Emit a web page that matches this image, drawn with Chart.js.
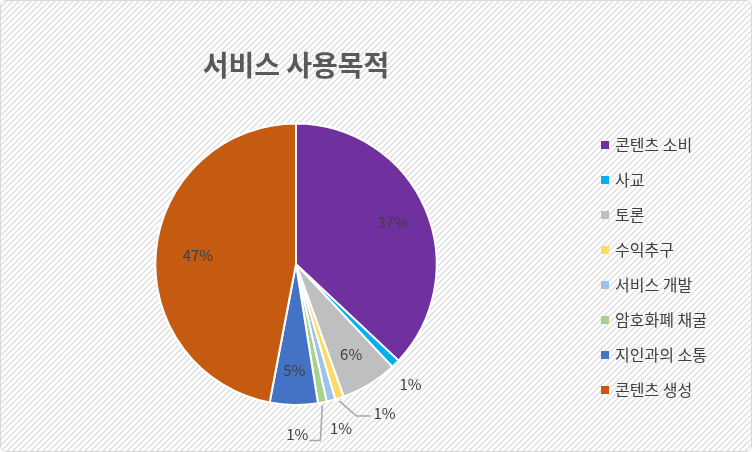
<!DOCTYPE html>
<html><head><meta charset="utf-8">
<script src="https://cdn.jsdelivr.net/npm/chart.js@4"></script>
<style>
body{margin:0;background:#fff}
#wrap{position:absolute;left:0;top:0;width:750px;height:450px;border:1px solid #d9d9d9;border-radius:6px;overflow:hidden}
</style></head><body>
<div id="wrap"><canvas id="c" width="750" height="450"></canvas></div>
<script>
const categories = ['콘텐츠 소비', '사교', '토론', '수익추구', '서비스 개발', '암호화폐 채굴', '지인과의 소통', '콘텐츠 생성'];
const values = [37, 1, 6.5, 1, 1, 1, 5.5, 47];
const labels = ['37%', '1%', '6%', '1%', '1%', '1%', '5%', '47%'];
const colors = ['#7030a0', '#00b0f0', '#bfbfbf', '#ffd966', '#9dc3e6', '#a9d18e', '#4472c4', '#c55a11'];
const font = "'Noto Sans CJK KR', 'Noto Sans', sans-serif";

const hatch = {
  id: 'hatch',
  beforeDraw(chart) {
    const ctx = chart.ctx;
    ctx.save();
    ctx.fillStyle = '#fff';
    ctx.fillRect(0, 0, chart.width, chart.height);
    ctx.strokeStyle = '#d9d9d9';
    ctx.lineWidth = 1.2;
    ctx.beginPath();
    for (let x = -chart.height; x < chart.width; x += 6) {
      ctx.moveTo(x, chart.height);
      ctx.lineTo(x + chart.height, 0);
    }
    ctx.stroke();
    ctx.restore();
  }
};

// legend drawn by hand so it can sit beside the pie
const sideLegend = {
  id: 'sideLegend',
  afterDraw(chart) {
    const ctx = chart.ctx;
    ctx.save();
    ctx.font = '16px ' + font;
    ctx.textBaseline = 'middle';
    categories.forEach((c, i) => {
      const y = 144 + i * 35;
      ctx.fillStyle = colors[i];
      ctx.fillRect(600, y - 4, 8, 8);
      ctx.fillStyle = '#404040';
      ctx.fillText(c, 614, y);
    });
    ctx.restore();
  }
};

// label offsets from the arc edge for the small slices
const outside = {1: [15, 21, null], 3: [45, 15, 'h'], 4: [10, 28, null], 5: [-25, 32, 'v']};
const pctLabels = {
  id: 'pctLabels',
  afterDatasetsDraw(chart) {
    const ctx = chart.ctx;
    const arcs = chart.getDatasetMeta(0).data;
    ctx.save();
    ctx.font = '15px ' + font;
    ctx.textAlign = 'center';
    ctx.textBaseline = 'middle';
    ctx.fillStyle = '#404040';
    arcs.forEach((a, i) => {
      const mid = (a.startAngle + a.endAngle) / 2;
      const r = a.outerRadius;
      const cos = Math.cos(mid), sin = Math.sin(mid);
      if (outside[i]) {
        const [dx, dy, lead] = outside[i];
        const ex = a.x + cos * r, ey = a.y + sin * r;
        const tx = ex + dx, ty = ey + dy;
        if (lead) {
          ctx.strokeStyle = '#a6a6a6';
          ctx.lineWidth = 1.5;
          ctx.beginPath();
          ctx.moveTo(ex, ey + 3);
          if (lead === 'h') { ctx.lineTo(tx - 28, ty + 3); ctx.lineTo(tx - 14, ty + 3); }
          else { ctx.lineTo(ex - 2, ty + 6); ctx.lineTo(tx + 12, ty + 6); }
          ctx.stroke();
        }
        ctx.fillText(labels[i], tx, ty);
      } else {
        const k = i === 7 ? 0.7 : 0.75;
        ctx.fillText(labels[i], a.x + cos * r * k, a.y + sin * r * k);
      }
    });
    ctx.restore();
  }
};

new Chart(document.getElementById('c'), {
  type: 'pie',
  data: {
    labels: categories,
    datasets: [{ data: values, backgroundColor: colors, borderColor: '#fff', borderWidth: 2 }]
  },
  plugins: [hatch, pctLabels, sideLegend],
  options: {
    responsive: false,
    animation: false,
    layout: { padding: { top: 20, bottom: 45, left: 0, right: 160 } },
    plugins: {
      title: {
        display: true, text: '서비스 사용목적', color: '#595959',
        font: { family: font, size: 28, weight: 'bold' },
        padding: { top: 28, bottom: 40 }
      },
      legend: { display: false },
      tooltip: { enabled: false }
    }
  }
});
</script>
</body></html>
